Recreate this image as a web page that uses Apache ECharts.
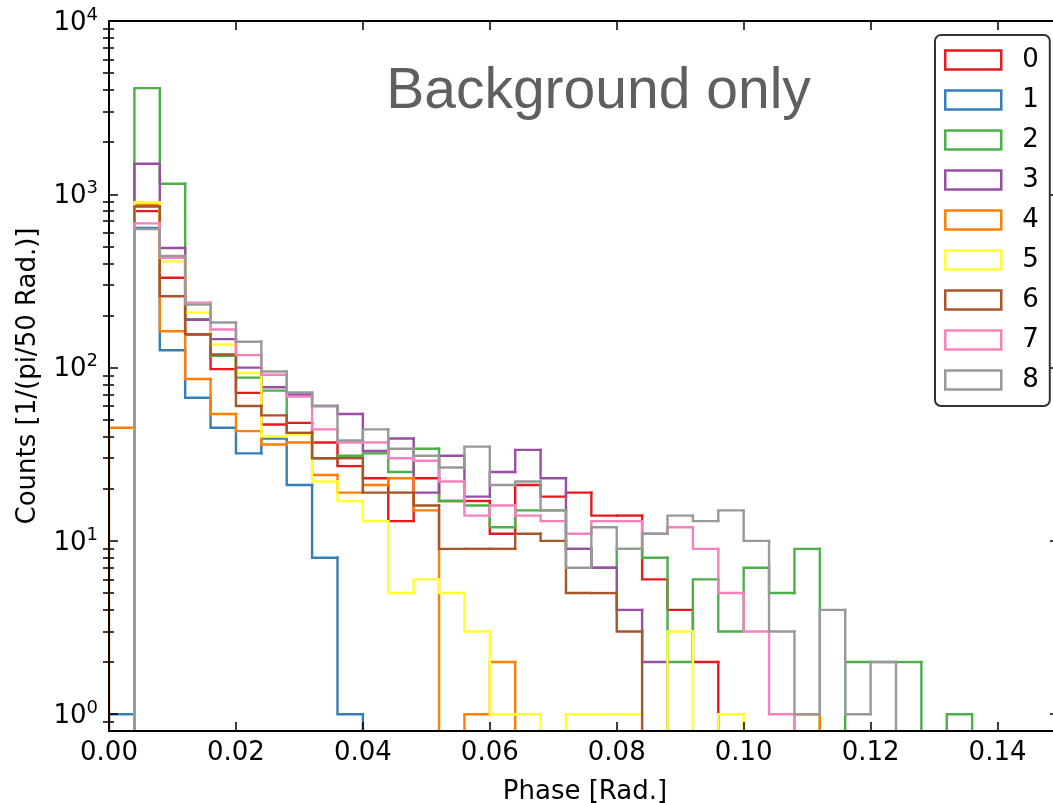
<!DOCTYPE html>
<html>
<head>
<meta charset="utf-8">
<script src="https://cdn.jsdelivr.net/npm/echarts@6/dist/echarts.min.js"></script>
<style>
html,body{margin:0;padding:0;background:#fff;}
#chart{width:1053px;height:803px;}
</style>
</head>
<body>
<div id="chart"></div>
<script>
// ---------- data ----------
const BIN_WIDTH = 0.004;                 // histogram bin width [Rad.]
const seriesNames = ['0','1','2','3','4','5','6','7','8'];
const seriesColors = ['#e41a1c','#377eb8','#4daf4a','#984ea3','#ff7f00','#ffff33','#a65628','#f781bf','#999999'];

// counts per bin (bin k covers [k*0.004, (k+1)*0.004))
const counts0 = [0,800,330,155,98,71.5,47,48,37,27,23,13,23,17,17,11,21,18,19,14,14,6,4,2,0,0,0,0,0,0,0,0,0,0];
const counts1 = [1,640,126,67,45,32,39,21,8,1,0,0,0,0,0,0,0,0,0,0,0,0,0,0,0,0,0,0,0,0,0,0,0,0];
const counts2 = [0,4100,1150,190,117,87.5,73.6,42,30,31,32,25,34,17,16,12,15,15,9,7,9,8,2,6,3,7,5,9,0,2,2,2,0,1];
const counts3 = [0,1500,490,189,146,100,77,70,60,54,33,39,19,31,18,25,33.5,23,9,7,4,2,0,0,0,0,0,0,0,0,0,0,0,0];
const counts4 = [45,870,162,86,54,43,36,37,24,19,21,23,15,0,1,2,0,0,0,0,0,0,0,0,0,0,0,1,0,0,0,0,0,0];
const counts5 = [0,900,410,208,136,93,40,41,22,17,13,5,6,5,3,1,1,0,1,1,1,0,3,0,1,0,0,0,0,0,0,0,0,0];
const counts6 = [0,850,258,156,119,60,53,42,30,30,19,19,16,9,9,9,11,10,5,5,3,0,0,0,0,0,0,0,0,0,0,0,0,0];
const counts7 = [0,680,430,237,166,118,91,68,44,37,37,30,29,22,14,16,14,13,11,13,13,11,12,9,5,3,1,0,0,0,0,0,0,0];
const counts8 = [0,630,441,231,182,141,95,72,60,38,44,34,31,26.5,35,21,22,15,7,12,9,11,14,13,15,10,3,1,4,1,2,0,0,0];
const allCounts = [counts0,counts1,counts2,counts3,counts4,counts5,counts6,counts7,counts8];

const xTickValues = [0,0.02,0.04,0.06,0.08,0.10,0.12,0.14];
const yMajorTicks = [1,10,100,1000,10000];
const yMinorTicks = [0.9,2,3,4,5,6,7,8,9,20,30,40,50,60,70,80,90,200,300,400,500,600,700,800,900,2000,3000,4000,5000,6000,7000,8000,9000];
const X_MIN = 0, X_MAX = 0.15;
const Y_MIN = 0.8, Y_MAX = 10000;
const titleText = 'Background only';
const xAxisName = 'Phase [Rad.]';
const yAxisName = 'Counts [1/(pi/50 Rad.)]';

// ---------- chart ----------
const FONT = "'DejaVu Sans', sans-serif";
const chart = echarts.init(document.getElementById('chart'), null, {renderer:'canvas'});

function makeRenderItem(color, n) {
  return function (params, api) {
    const i = params.dataIndexInside;
    const xv = api.value(0);
    const c = api.value(1);
    const prev = i > 0 ? api.value(1, i - 1) : 0;
    const base = api.coord([xv, Y_MIN]);
    const X0 = base[0];
    const yB = base[1];
    const X1 = api.coord([xv + BIN_WIDTH, Y_MIN])[0];
    const yOf = v => (v > 0 ? api.coord([xv, v])[1] : yB);
    const pts = [];
    if (prev > 0 || c > 0) {
      pts.push([X0, yOf(prev)], [X0, yOf(c)]);
    }
    if (c > 0) {
      pts.push([X1, yOf(c)]);
      if (i === n - 1) pts.push([X1, yB]);
    }
    if (pts.length < 2) return null;
    return {
      type: 'polyline',
      shape: {points: pts},
      style: {stroke: color, lineWidth: 2.4, fill: null, lineJoin: 'miter', lineCap: 'square'}
    };
  };
}

const series = allCounts.map((arr, s) => ({
  type: 'custom',
  name: seriesNames[s],
  coordinateSystem: 'cartesian2d',
  xAxisIndex: 0,
  yAxisIndex: 0,
  clip: true,
  itemStyle: {color: seriesColors[s]},
  encode: {x: 0, y: 1},
  renderItem: makeRenderItem(seriesColors[s], arr.length),
  data: arr.map((c, k) => [k * BIN_WIDTH, c]),
  z: 2
}));

const axisLineStyle = {color: '#000', width: 2};
const tickLineStyle = {color: '#000', width: 1.5};

const option = {
  backgroundColor: '#fff',
  animation: false,
  grid: {left: 109, top: 21, width: 952, height: 710, containLabel: false, outerBoundsMode: 'none'},
  legend: {
    orient: 'vertical',
    left: 935, top: 35,
    itemWidth: 56, itemHeight: 19, itemGap: 14,
    padding: [12, 11, 13, 9],
    backgroundColor: '#fff',
    borderColor: '#333',
    borderWidth: 2,
    borderRadius: 6,
    selectedMode: false,
    textStyle: {fontFamily: FONT, fontSize: 26, color: '#000', lineHeight: 19, padding: [0, 0, 0, 16]},
    data: seriesNames.map((n, i) => ({
      name: n, icon: 'rect',
      itemStyle: {color: '#fff', borderColor: seriesColors[i], borderWidth: 2.5}
    })),
    z: 20
  },
  graphic: [{
    type: 'text', x: 598.5, y: 92, z: 30,
    style: {text: titleText, fontFamily: "'Liberation Sans', Arial, sans-serif", fontSize: 57,
            fill: '#5e5f61', align: 'center', verticalAlign: 'middle'}
  }],
  xAxis: [{
    type: 'value', position: 'bottom', min: X_MIN, max: X_MAX, interval: 0.02, z: 10,
    axisLine: {show: true, onZero: false, lineStyle: axisLineStyle},
    axisTick: {show: true, inside: true, length: 9, lineStyle: tickLineStyle, customValues: xTickValues},
    axisLabel: {show: true, customValues: xTickValues, formatter: v => v.toFixed(2),
                fontFamily: FONT, fontSize: 26, color: '#000', margin: 9},
    splitLine: {show: false},
    name: xAxisName, nameLocation: 'middle', nameGap: 48,
    nameTextStyle: {fontFamily: FONT, fontSize: 26, color: '#000'}
  }, {
    type: 'value', position: 'top', min: X_MIN, max: X_MAX, interval: 0.02, z: 10,
    axisLine: {show: true, onZero: false, lineStyle: axisLineStyle},
    axisTick: {show: true, inside: true, length: 9, lineStyle: tickLineStyle, customValues: xTickValues},
    axisLabel: {show: false},
    splitLine: {show: false}
  }],
  yAxis: [{
    type: 'log', logBase: 10, position: 'left', min: Y_MIN, max: Y_MAX, z: 10,
    axisLine: {show: true, onZero: false, lineStyle: axisLineStyle},
    axisTick: {show: true, inside: true, length: 9, lineStyle: tickLineStyle, customValues: yMajorTicks},
    axisLabel: {
      show: true, customValues: yMajorTicks, margin: 11,
      formatter: v => '{b|10}{s|' + Math.round(Math.log10(v)) + '}',
      rich: {
        b: {fontFamily: FONT, fontSize: 26, color: '#000', lineHeight: 30, verticalAlign: 'bottom'},
        s: {fontFamily: FONT, fontSize: 18, color: '#000', lineHeight: 18, verticalAlign: 'top'}
      }
    },
    splitLine: {show: false},
    name: yAxisName, nameLocation: 'middle', nameGap: 68, nameRotate: 90,
    nameTextStyle: {fontFamily: FONT, fontSize: 26, color: '#000'}
  }, {
    type: 'log', logBase: 10, position: 'left', min: Y_MIN, max: Y_MAX, z: 10,
    axisLine: {show: false},
    axisTick: {show: true, inside: true, length: 5, lineStyle: tickLineStyle, customValues: yMinorTicks},
    axisLabel: {show: false},
    splitLine: {show: false}
  }, {
    type: 'log', logBase: 10, position: 'right', min: Y_MIN, max: Y_MAX, z: 10,
    axisLine: {show: true, onZero: false, lineStyle: axisLineStyle},
    axisTick: {show: true, inside: true, length: 11, lineStyle: tickLineStyle, customValues: yMajorTicks},
    axisLabel: {show: false},
    splitLine: {show: false}
  }, {
    type: 'log', logBase: 10, position: 'right', min: Y_MIN, max: Y_MAX, z: 10,
    axisLine: {show: false},
    axisTick: {show: true, inside: true, length: 6, lineStyle: tickLineStyle, customValues: yMinorTicks},
    axisLabel: {show: false},
    splitLine: {show: false}
  }],
  series: series
};
chart.setOption(option);
</script>
</body>
</html>
